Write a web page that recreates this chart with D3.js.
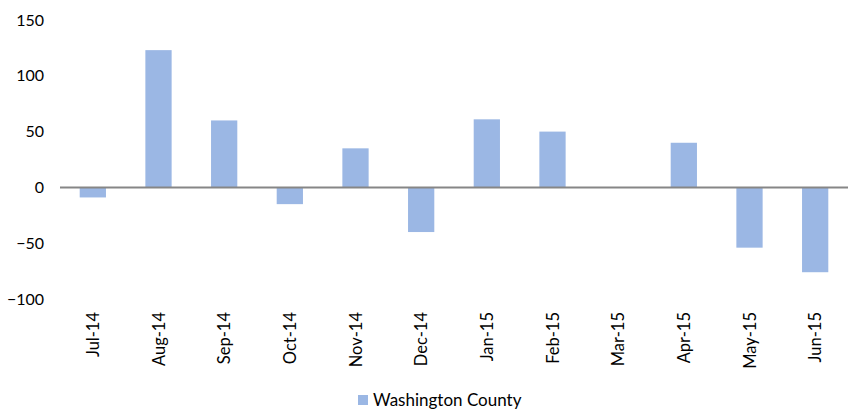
<!DOCTYPE html>
<html>
<head>
<meta charset="utf-8">
<script src="https://cdn.jsdelivr.net/npm/d3@7"></script>
<style>
  body { margin: 0; background: #fff; }
  text { font-family: Lato, "Open Sans", sans-serif; fill: #000; }
</style>
</head>
<body>
<script>
// chart data
var months = ['Jul-14', 'Aug-14', 'Sep-14', 'Oct-14', 'Nov-14', 'Dec-14',
              'Jan-15', 'Feb-15', 'Mar-15', 'Apr-15', 'May-15', 'Jun-15'];
var values = [-9, 123, 60, -15, 35, -40, 61, 50, 0, 40, -54, -76];
var yTicks = [-100, -50, 0, 50, 100, 150];
var seriesName = 'Washington County';

var width = 853, height = 413;
var barColor = '#9BB7E4';

var svg = d3.select('body').append('svg')
  .attr('width', width)
  .attr('height', height);

var x = d3.scaleBand()
  .domain(months)
  .range([60, 848])
  .paddingInner(0.6)
  .paddingOuter(0.3);

var y = d3.scaleLinear()
  .domain([-100, 150])
  .range([299, 20]);

// y axis labels (no line)
svg.append('g')
  .attr('transform', 'translate(44,0)')
  .call(d3.axisLeft(y).tickValues(yTicks).tickSize(0).tickPadding(0))
  .call(function(g) { g.select('.domain').remove(); })
  .selectAll('text')
  .style('font-size', '16px')
  .style('font-family', 'Lato, "Open Sans", sans-serif');

// bars
svg.selectAll('rect.bar')
  .data(values)
  .enter()
  .append('rect')
  .attr('class', 'bar')
  .attr('x', function(d, i) { return x(months[i]); })
  .attr('width', x.bandwidth())
  .attr('y', function(d) { return y(Math.max(0, d)); })
  .attr('height', function(d) { return Math.abs(y(d) - y(0)); })
  .attr('fill', barColor);

// zero line
svg.append('line')
  .attr('x1', 60).attr('x2', 848)
  .attr('y1', y(0)).attr('y2', y(0))
  .attr('stroke', '#868686')
  .attr('stroke-width', 2);

// month labels, rotated
svg.selectAll('text.month')
  .data(months)
  .enter()
  .append('text')
  .attr('class', 'month')
  .attr('transform', function(d) {
    return 'translate(' + (x(d) + x.bandwidth() / 2 + 6) + ',312) rotate(-90)';
  })
  .attr('text-anchor', 'end')
  .style('font-size', '16.5px')
  .text(function(d) { return d; });

// legend
var legend = svg.append('g').attr('transform', 'translate(358,395)');
legend.append('rect')
  .attr('width', 10).attr('height', 10)
  .attr('fill', barColor);
legend.append('text')
  .attr('x', 15).attr('y', 11)
  .style('font-size', '17px')
  .text(seriesName);
</script>
</body>
</html>
